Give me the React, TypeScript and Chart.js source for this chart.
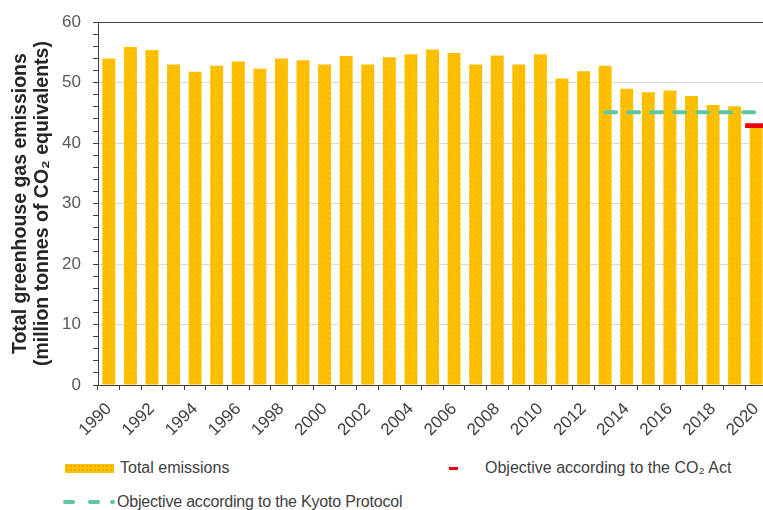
import React, { useEffect, useRef } from "react";
import { Chart, registerables } from "chart.js";

Chart.register(...registerables);

const years = [
  "1990", "1991", "1992", "1993", "1994", "1995", "1996", "1997", "1998", "1999",
  "2000", "2001", "2002", "2003", "2004", "2005", "2006", "2007", "2008", "2009",
  "2010", "2011", "2012", "2013", "2014", "2015", "2016", "2017", "2018", "2019",
  "2020",
];

const totalEmissions = [
  54.0, 55.9, 55.4, 53.0, 51.8, 52.8, 53.5, 52.3, 54.0, 53.7,
  53.0, 54.4, 53.0, 54.2, 54.7, 55.5, 54.9, 53.0, 54.5, 53.0,
  54.7, 50.7, 51.9, 52.8, 49.0, 48.4, 48.7, 47.8, 46.3, 46.1,
  42.6,
];

const kyotoObjective = [
  null, null, null, null, null, null, null, null, null, null,
  null, null, null, null, null, null, null, null, null, null,
  null, null, null, 45.1, 45.1, 45.1, 45.1, 45.1, 45.1, 45.1,
  45.1,
];

const co2ActObjective = [
  null, null, null, null, null, null, null, null, null, null,
  null, null, null, null, null, null, null, null, null, null,
  null, null, null, null, null, null, null, null, null, null,
  [42.55, 43.25],
];

const yTitleLines = ["Total greenhouse gas emissions", "(million tonnes of CO\u2082 equivalents)"];
const legendLabels = {
  total: "Total emissions",
  co2Act: "Objective according to the CO\u2082 Act",
  kyoto: "Objective according to the Kyoto Protocol",
};

const FONT = "'Liberation Sans', Arial, sans-serif";
const GOLD = "#FFC000";
const GREEN = "#5ec6a0";
const RED = "#e8000b";

function makePattern(): CanvasPattern | string {
  const c = document.createElement("canvas");
  c.width = 5;
  c.height = 5;
  const g = c.getContext("2d");
  if (!g) return GOLD;
  g.fillStyle = GOLD;
  g.fillRect(0, 0, 5, 5);
  g.fillStyle = "#EEA900";
  g.fillRect(1, 1, 1, 1);
  g.fillRect(3, 3, 1, 1);
  return g.createPattern(c, "repeat") || GOLD;
}

export default function App() {
  const ref = useRef<HTMLCanvasElement | null>(null);

  useEffect(() => {
    if (!ref.current) return;
    const pattern = makePattern();
    const chart = new Chart(ref.current, {
      type: "bar",
      data: {
        labels: years,
        datasets: [
          {
            type: "bar",
            label: legendLabels.co2Act,
            data: co2ActObjective as any,
            backgroundColor: RED,
            barPercentage: 1,
            categoryPercentage: 1,
            grouped: false,
            order: 1,
          } as any,
          {
            type: "line",
            label: legendLabels.kyoto,
            data: kyotoObjective,
            borderColor: GREEN,
            borderWidth: 4,
            borderDash: [11, 12],
            borderCapStyle: "round",
            pointRadius: 0,
            fill: false,
            order: 2,
          } as any,
          {
            type: "bar",
            label: legendLabels.total,
            data: totalEmissions,
            backgroundColor: pattern as any,
            barPercentage: 0.6,
            categoryPercentage: 1,
            grouped: false,
            order: 3,
          } as any,
        ],
      },
      options: {
        animation: false,
        responsive: false,
        maintainAspectRatio: false,
        layout: { padding: { top: 17, right: 13, left: 0, bottom: 0 } },
        plugins: { legend: { display: false }, tooltip: { enabled: false } },
        scales: {
          x: {
            grid: {
              offset: true,
              drawOnChartArea: false,
              drawTicks: true,
              tickLength: 5,
              tickColor: "#404040",
            },
            border: { color: "#404040", width: 1 },
            ticks: {
              autoSkip: false,
              maxRotation: 45,
              minRotation: 45,
              padding: 9,
              color: "#404040",
              font: { family: FONT, size: 17 },
              callback: (_v: any, i: number) => (i % 2 === 0 ? years[i] : ""),
            },
            afterFit: (s: any) => {
              s.height = 55;
            },
          },
          y: {
            min: 0,
            max: 60,
            ticks: {
              stepSize: 2,
              autoSkip: false,
              padding: 12,
              color: "#595959",
              font: { family: FONT, size: 17 },
              callback: (v: any) => (Number(v) % 10 === 0 ? String(v) : ""),
            },
            grid: {
              color: (ctx: any) => {
                const v = ctx.tick ? ctx.tick.value : 0;
                if (v === 60) return "#404040";
                if (v === 0) return "rgba(0,0,0,0)";
                return v % 10 === 0 ? "#d9d9d9" : "rgba(0,0,0,0)";
              },
              tickColor: "#404040",
              tickLength: 5,
              drawTicks: true,
            },
            border: { color: "#404040", width: 1 },
            title: {
              display: true,
              text: yTitleLines,
              color: "#262626",
              font: { family: FONT, size: 19.5, weight: "bold", lineHeight: 1.15 },
              padding: { top: 9, bottom: 0 },
            },
            afterFit: (s: any) => {
              s.width = 98;
            },
          },
        },
      } as any,
    });
    return () => chart.destroy();
  }, []);

  const textStyle: React.CSSProperties = {
    position: "absolute",
    fontFamily: FONT,
    fontSize: 16,
    color: "#404040",
    whiteSpace: "nowrap",
    lineHeight: "18px",
  };
  const dash = (left: number, width: number): React.CSSProperties => ({
    position: "absolute",
    left,
    top: 500,
    width,
    height: 4,
    borderRadius: 2,
    background: GREEN,
  });

  return (
    <div
      style={{
        position: "fixed",
        left: 0,
        top: 0,
        width: 763,
        height: 510,
        overflow: "hidden",
        background: "#fff",
      }}
    >
      <canvas
        ref={ref}
        width={780}
        height={440}
        style={{ position: "absolute", left: 0, top: 0, width: 780, height: 440 }}
      />
      <div
        style={{
          position: "absolute",
          left: 65,
          top: 464,
          width: 49,
          height: 9,
          background: `radial-gradient(circle, #E9A600 0.7px, rgba(0,0,0,0) 1px) 0 0 / 4px 4px, ${GOLD}`,
        }}
      />
      <div style={{ ...textStyle, left: 120, top: 459 }}>{legendLabels.total}</div>
      <div style={{ position: "absolute", left: 449, top: 467, width: 9, height: 3, background: RED }} />
      <div style={{ ...textStyle, left: 485, top: 459 }}>{legendLabels.co2Act}</div>
      <div style={dash(63, 12)} />
      <div style={dash(88, 12)} />
      <div style={dash(110, 5)} />
      <div style={{ ...textStyle, left: 117, top: 493, letterSpacing: -0.2 }}>{legendLabels.kyoto}</div>
    </div>
  );
}
